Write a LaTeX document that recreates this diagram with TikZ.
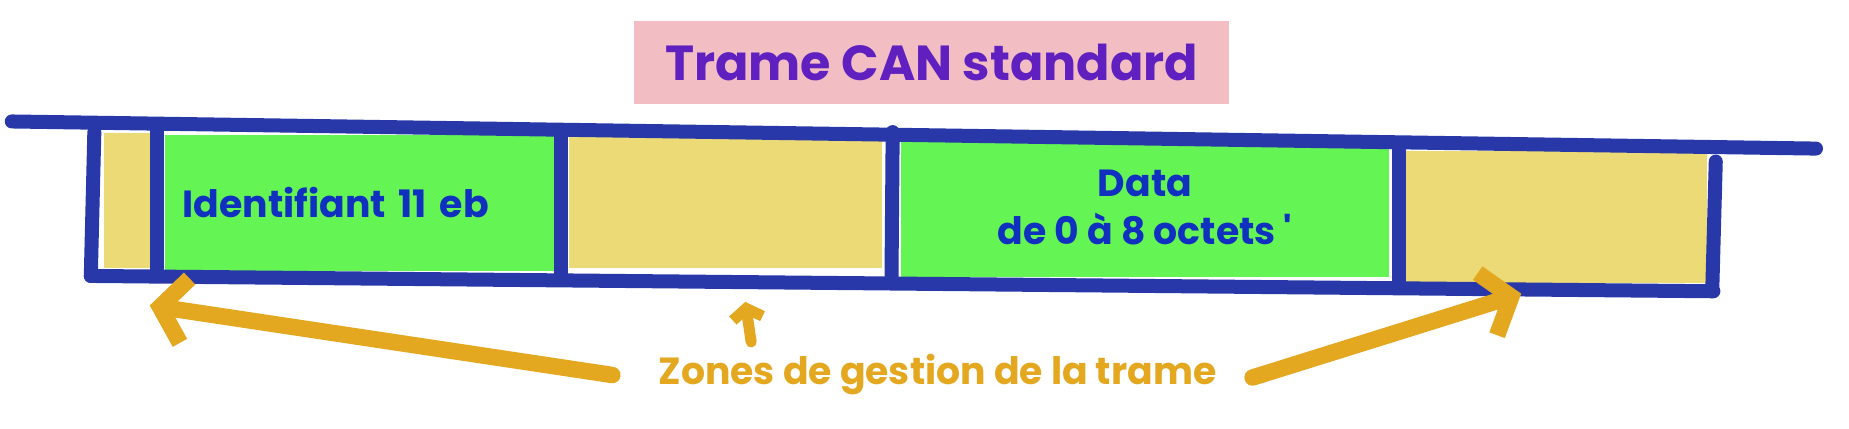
\documentclass[tikz,border=0pt]{standalone}
\usepackage{fontspec}
\setmainfont{Poppins}
\usetikzlibrary{positioning,arrows.meta}
\definecolor{bleutrame}{RGB}{40,56,168}
\definecolor{champvert}{RGB}{100,245,85}
\definecolor{zonejaune}{RGB}{236,218,118}
\definecolor{rosetitre}{RGB}{242,190,196}
\definecolor{violet}{RGB}{96,32,192}
\definecolor{textebleu}{RGB}{16,48,192}
\definecolor{orangezone}{RGB}{228,168,32}
\tikzstyle{cell} = [inner sep=0pt,outer sep=0pt]
\tikzstyle{zone} = [cell,fill=zonejaune]
\tikzstyle{champ} = [cell,fill=champvert,text=textebleu,font=\bfseries\fontsize{21.5}{27}\selectfont,align=center]
\tikzstyle{bord} = [line width=0.28cm,color=bleutrame,line cap=round]
\tikzstyle{fleche} = [line width=0.33cm,color=orangezone,line cap=round,-{Straight Barb[length=0.5cm,width=1.3cm]}]

\begin{document}
\begin{tikzpicture}[x=0.02358cm,y=-0.02358cm]
	\useasboundingbox (0,0) rectangle (1568,363);
	% titre
	\node[fill=rosetitre,minimum width=11.91cm,minimum height=1.65cm,text=violet,font=\bfseries\fontsize{28}{32}\selectfont] (titre) at (790,53) {Trame CAN standard};
	% champs de la trame
	\node[zone,minimum width=0.94cm,minimum height=2.71cm] (sof) at (108,170) {};
	\node[champ,minimum width=7.78cm,minimum height=2.71cm,text width=7.07cm,inner xsep=0.35cm,align=left] (ident) at (305,172) {Identifiant 11 eb};
	\node[zone,minimum width=6.25cm,minimum height=2.66cm] (ctrl) at (615,171) {};
	\node[champ,minimum width=9.74cm,minimum height=2.76cm] (data) at (971,176) {Data\\de 0 à 8 octets \textquotesingle};
	\node[zone,minimum width=6.08cm,minimum height=2.64cm] (fin) at (1319,184) {};
	% contour
	\draw[bord] (10,103) -- (1540,126);
	\draw[bord] (77,234) -- (1453,247);
	\draw[bord] (80,112) -- (77,234);
	\draw[bord] (133,110) -- (133,233);
	\draw[bord] (476,113) -- (476,233);
	\draw[bord] (757,112) -- (756,237);
	\draw[bord] (1186,127) -- (1186,240);
	\draw[bord] (1455,137) -- (1452,247);
	% zones de gestion
	\node[text=orangezone,font=\bfseries\fontsize{21.5}{25}\selectfont] (gestion) at (795,318) {Zones de gestion de la trame};
	\coordinate (vers_sof) at (127,259);
	\coordinate (depart_ctrl) at (637,290);
	\coordinate (vers_ctrl) at (632,256);
	\coordinate (vers_fin) at (1290,249);
	\draw[fleche] ([xshift=-0.8cm]gestion.west) -- (vers_sof);
	\draw[fleche,line width=0.22cm,-{Straight Barb[length=0.2cm,width=0.6cm]}] (depart_ctrl) -- (vers_ctrl);
	\draw[fleche] ([xshift=0.6cm,yshift=-0.05cm]gestion.east) -- (vers_fin);
\end{tikzpicture}
\end{document}
